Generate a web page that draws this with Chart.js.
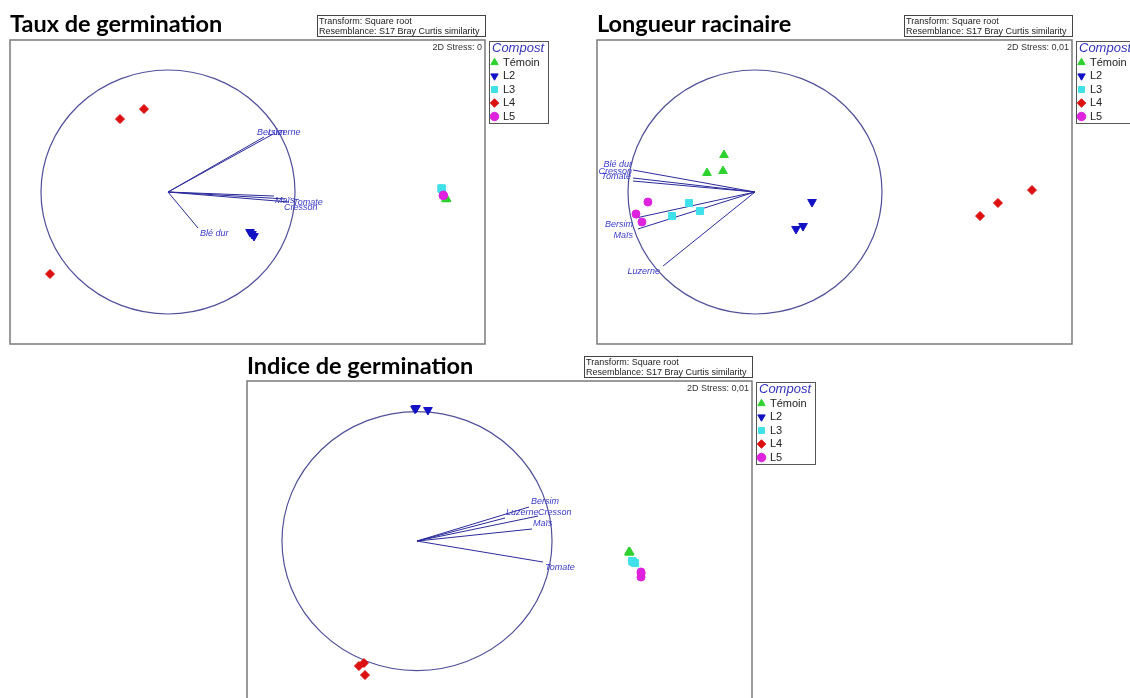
<!DOCTYPE html>
<html>
<head>
<meta charset="utf-8">
<script src="https://cdn.jsdelivr.net/npm/chart.js@4/dist/chart.umd.min.js"></script>
<style>
  html, body { margin: 0; padding: 0; background: #fff; width: 1130px; height: 698px; overflow: hidden; }
  canvas { position: absolute; }
</style>
</head>
<body>
<canvas id="c1" width="551" height="350" style="left:0px;top:0px"></canvas>
<canvas id="c2" width="551" height="350" style="left:587px;top:0px"></canvas>
<canvas id="c3" width="581" height="360" style="left:237px;top:350px"></canvas>
<script>
// ---------- DATA ----------
const groups = ['Témoin', 'L2', 'L3', 'L4', 'L5'];

// Taux de germination
const tauxTemoin = [[2.194, -0.057], [2.190, -0.052], [2.190, -0.060]];
const tauxL2 = [[0.646, -0.328], [0.661, -0.344], [0.677, -0.361]];
const tauxL3 = [[2.155, 0.030], [2.157, 0.025], [2.153, 0.028]];
const tauxL4 = [[-0.378, 0.598], [-0.189, 0.680], [-0.929, -0.672]];
const tauxL5 = [[2.168, -0.025], [2.166, -0.030], [2.170, -0.028]];
const tauxVecNames = ['Bersim', 'Luzerne', 'Maïs', 'Tomate', 'Cresson', 'Blé dur'];
const tauxVecX = [0.756, 0.827, 0.835, 0.921, 0.953, 0.236];
const tauxVecY = [0.451, 0.475, -0.033, -0.057, -0.082, -0.295];

// Longueur racinaire
const longTemoin = [[-0.244, 0.303], [-0.252, 0.172], [-0.378, 0.156]];
const longL2 = [[0.449, -0.082], [0.378, -0.279], [0.323, -0.303]];
const longL3 = [[-0.520, -0.090], [-0.433, -0.156], [-0.654, -0.197]];
const longL4 = [[2.181, 0.016], [1.913, -0.090], [1.772, -0.197]];
const longL5 = [[-0.843, -0.082], [-0.937, -0.180], [-0.890, -0.246]];
const longVecNames = ['Blé dur', 'Cresson', 'Tomate', 'Bersim', 'Maïs', 'Luzerne'];
const longVecX = [-0.961, -0.961, -0.961, -0.937, -0.921, -0.724];
const longVecY = [0.180, 0.115, 0.090, -0.213, -0.303, -0.607];

// Indice de germination
const indTemoin = [[1.570, -0.085], [1.572, -0.090], [1.575, -0.085]];
const indL2 = [[-0.015, 1.022], [-0.007, 1.027], [0.081, 1.012]];
const indL3 = [[1.593, -0.154], [1.615, -0.170], [1.600, -0.160]];
const indL4 = [[-0.430, -0.965], [-0.393, -0.942], [-0.385, -1.035]];
const indL5 = [[1.659, -0.239], [1.659, -0.278], [1.660, -0.250]];
const indVecNames = ['Bersim', 'Luzerne', 'Cresson', 'Maïs', 'Tomate'];
const indVecX = [0.830, 0.652, 0.896, 0.852, 0.933];
const indVecY = [0.263, 0.178, 0.193, 0.093, -0.162];

const titles = ['Taux de germination', 'Longueur racinaire', 'Indice de germination'];
const stressLabels = ['2D Stress: 0', '2D Stress: 0,01', '2D Stress: 0,01'];
const infoLines = ['Transform: Square root', 'Resemblance: S17 Bray Curtis similarity'];

// ---------- STYLE ----------
const groupStyle = [
  { color: '#2ed12e', pointStyle: 'triangle', radius: 5, rotation: 0, order: 5 },
  { color: '#1212c4', pointStyle: 'triangle', radius: 5, rotation: 180, order: 4 },
  { color: '#3fe0ea', pointStyle: 'rect', radius: 5, rotation: 0, order: 3 },
  { color: '#dc1010', pointStyle: 'rectRot', radius: 4.5, rotation: 0, order: 2 },
  { color: '#de22de', pointStyle: 'circle', radius: 4, rotation: 0, order: 1 }
];
const FONT = '"Liberation Sans", Arial, sans-serif';

function toPts(arr) { return arr.map(p => ({ x: p[0], y: p[1] })); }

function makePlugin(cfg) {
  return {
    id: 'pcaDecor',
    afterLayout(chart) {
      const lg = chart.legend;
      lg.left += 4; lg.right += 4;
    },
    beforeDatasetsDraw(chart) {
      const { ctx } = chart;
      const sx = chart.scales.x, sy = chart.scales.y;
      const cx = sx.getPixelForValue(0), cy = sy.getPixelForValue(0);
      const rx = sx.getPixelForValue(1) - cx, ry = cy - sy.getPixelForValue(1);
      ctx.save();
      ctx.strokeStyle = '#50509a'; ctx.lineWidth = 1.2;
      ctx.beginPath(); ctx.ellipse(cx, cy, rx, ry, 0, 0, Math.PI * 2); ctx.stroke();
      ctx.strokeStyle = '#2a2a9c'; ctx.lineWidth = 1;
      ctx.font = 'italic 9px ' + FONT; ctx.fillStyle = '#3a3ac8'; ctx.textBaseline = 'middle';
      ctx.textAlign = cfg.align;
      cfg.names.forEach((n, i) => {
        const px = sx.getPixelForValue(cfg.vx[i]), py = sy.getPixelForValue(cfg.vy[i]);
        ctx.beginPath(); ctx.moveTo(cx, cy); ctx.lineTo(px, py); ctx.stroke();
        const off = cfg.offsets[i];
        ctx.fillText(n, px + off[0], py + off[1]);
      });
      ctx.restore();
    },
    afterDraw(chart) {
      const { ctx, chartArea: ca } = chart;
      ctx.save();
      // plot frame
      ctx.strokeStyle = '#7a7a7a'; ctx.lineWidth = 1.5;
      ctx.strokeRect(ca.left, ca.top, ca.right - ca.left, ca.bottom - ca.top);
      // stress
      ctx.font = '9px ' + FONT; ctx.fillStyle = '#333'; ctx.textAlign = 'right'; ctx.textBaseline = 'middle';
      ctx.fillText(cfg.stress, ca.right - 3, ca.top + 8);
      // transform box
      const bw = 168, bh = 21, bx = ca.right - bw, by = ca.top - 25;
      ctx.strokeStyle = '#444'; ctx.lineWidth = 1;
      ctx.strokeRect(bx + 0.5, by + 0.5, bw, bh);
      ctx.textAlign = 'left'; ctx.fillStyle = '#222';
      ctx.fillText(infoLines[0], bx + 2, by + 6.5);
      ctx.fillText(infoLines[1], bx + 2, by + 16.5);
      // legend frame
      const lg = chart.legend;
      ctx.strokeStyle = '#555'; ctx.lineWidth = 1;
      ctx.strokeRect(Math.round(lg.left) + 0.5, Math.round(lg.top) + 1.5, 59, 82);
      ctx.restore();
    }
  };
}

function makeChart(id, title, titlePad, sets, range, decor) {
  const datasets = sets.map((arr, i) => {
    const s = groupStyle[i];
    return {
      label: groups[i],
      data: toPts(arr),
      backgroundColor: s.color,
      borderColor: s.color,
      pointStyle: s.pointStyle,
      pointRadius: s.radius,
      pointHoverRadius: s.radius,
      pointRotation: s.rotation,
      pointBorderWidth: 1,
      order: s.order
    };
  });
  return new Chart(document.getElementById(id), {
    type: 'scatter',
    data: { datasets },
    options: {
      responsive: false,
      animation: false,
      devicePixelRatio: 1,
      layout: { padding: { left: 10, right: 8, top: 0, bottom: range.padBottom } },
      scales: {
        x: { type: 'linear', display: false, min: range.x[0], max: range.x[1] },
        y: { type: 'linear', display: false, min: range.y[0], max: range.y[1] }
      },
      plugins: {
        tooltip: { enabled: false },
        title: {
          display: true, text: title, align: 'start', color: '#000',
          font: { family: 'Lato, "Open Sans", sans-serif', size: 23.5, weight: 'bold', lineHeight: 1.2 },
          padding: titlePad
        },
        legend: {
          display: true, position: 'right', align: 'start', fullSize: false, maxWidth: 58,
          title: { display: true, text: 'Compost', position: 'center', color: '#3333bb',
                   font: { family: FONT, size: 13, style: 'italic', lineHeight: 1 }, padding: { top: 1.5, bottom: 0 } },
          labels: {
            usePointStyle: true, boxWidth: 6, boxHeight: 6, padding: 2.5, color: '#222',
            font: { family: FONT, size: 11 },
            sort: (a, b) => a.datasetIndex - b.datasetIndex
          }
        }
      }
    },
    plugins: [makePlugin(decor)]
  });
}

makeChart('c1', titles[0], { top: 10.1, bottom: 1.7 },
  [tauxTemoin, tauxL2, tauxL3, tauxL4, tauxL5],
  { x: [-1.244, 2.496], y: [-1.246, 1.246], padBottom: 6 },
  { names: tauxVecNames, vx: tauxVecX, vy: tauxVecY, align: 'left', stress: stressLabels[0],
    offsets: [[-7, -4], [-5, -2], [1, 4], [8, 4], [-5, 5], [2, 6]] });

makeChart('c2', titles[1], { top: 10.1, bottom: 1.7 },
  [longTemoin, longL2, longL3, longL4, longL5],
  { x: [-1.244, 2.496], y: [-1.246, 1.246], padBottom: 6 },
  { names: longVecNames, vx: longVecX, vy: longVecY, align: 'right', stress: stressLabels[1],
    offsets: [[-1, -6], [-1, -6], [-2, -5], [-3, 7], [-5, 7], [-3, 5]] });

makeChart('c3', titles[2], { top: 1.9, bottom: 0.9 },
  [indTemoin, indL2, indL3, indL4, indL5],
  { x: [-1.259, 2.481], y: [-1.243, 1.236], padBottom: 8 },
  { names: indVecNames, vx: indVecX, vy: indVecY, align: 'left', stress: stressLabels[2],
    offsets: [[2, -5], [1, -5], [0, -4], [1, -6], [2, 5]] });
</script>
</body>
</html>
